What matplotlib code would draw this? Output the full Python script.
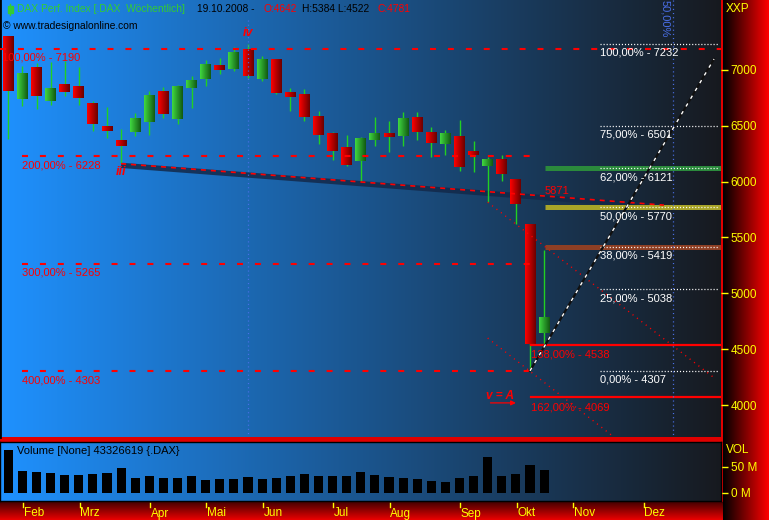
import numpy as np
import matplotlib
matplotlib.use('Agg')
import matplotlib.pyplot as plt
import matplotlib.transforms as mtransforms
from matplotlib.lines import Line2D
from matplotlib.patches import Rectangle

plt.rcParams['font.family'] = ['Liberation Sans', 'DejaVu Sans']
plt.rcParams['font.size'] = 8
plt.rcParams['lines.scale_dashes'] = False

# weekly DAX candles, 21.01.2008 - 13.10.2008
opens = [7297, 6741, 7018, 6717, 6866, 6848, 6696, 6491, 6366, 6440,
         6530, 6804, 6556, 6833, 6913, 7036, 7009, 7179, 6920, 7098,
         6795, 6777, 6589, 6429, 6313, 6182, 6375, 6429, 6405, 6571,
         6437, 6333, 6402, 6268, 6137, 6196, 6018, 5616, 4642]
highs = [7297, 7038, 7060, 7065, 7080, 7021, 6723, 6670, 6473, 6616,
         6813, 6848, 6866, 6946, 7089, 7107, 7208, 7232, 7125, 7098,
         6839, 6830, 6634, 6446, 6420, 6402, 6580, 6545, 6625, 6625,
         6491, 6464, 6554, 6360, 6223, 6241, 6018, 5616, 5384]
lows = [6381, 6672, 6652, 6688, 6762, 6688, 6449, 6387, 6167, 6405,
        6420, 6565, 6512, 6654, 6851, 6958, 6991, 6930, 6902, 6786,
        6634, 6545, 6339, 6196, 6137, 6003, 6315, 6262, 6315, 6369,
        6217, 6235, 6092, 6083, 5815, 6003, 5616, 4307, 4522]
closes = [6813, 6973, 6762, 6830, 6798, 6744, 6512, 6449, 6315, 6562,
          6768, 6601, 6848, 6902, 7045, 6994, 7161, 6940, 7098, 6795,
          6759, 6574, 6420, 6271, 6152, 6384, 6437, 6396, 6562, 6440,
          6342, 6429, 6128, 6235, 6196, 6065, 5797, 4545, 4781]
volumes = [82, 41.7, 39.7, 37.8, 34, 34, 35.9, 37.8, 47.4, 28.2,
           32, 28.2, 28.2, 32, 24.4, 26.3, 26.3, 30.1, 26.3, 27.5,
           32, 35.9, 32, 32, 32, 39.7, 34, 30.1, 28.2, 26.3,
           22.4, 20.5, 28.2, 32, 68.6, 32, 35.9, 53.2, 43.3]

month_names = ['Feb', 'Mrz', 'Apr', 'Mai', 'Jun', 'Jul', 'Aug', 'Sep', 'Okt', 'Nov', 'Dez']
month_weeks = [1, 5, 10, 14, 18, 23, 27, 32, 36, 40, 45]

wave_levels = [7190, 6228, 5265, 4303]
wave_labels = ['100,00% - 7190', '200,00% - 6228', '300,00% - 5265', '400,00% - 4303']

fib_levels = [7232, 6501, 6121, 5770, 5419, 5038, 4307]
fib_labels = ['100,00% - 7232', '75,00% - 6501', '62,00% - 6121', '50,00% - 5770',
              '38,00% - 5419', '25,00% - 5038', '0,00% - 4307']

ext_levels = [4538, 4069]
ext_labels = ['138,00% - 4538', '162,00% - 4069']

band_levels = [6121, 5770, 5419]
band_colors = ['#2b8a3c', '#a8a428', '#8e3f24']

trend_start = (8, 6160)
trend_at_38 = 5871

W, H = 769, 520
fig = plt.figure(figsize=(W / 100, H / 100), dpi=100, facecolor='#e00000')


def fx(px):
    return px / W


def fy(py):
    return 1 - py / H


def hgrad(c0, c1, n=256):
    t = np.linspace(0, 1, n)[None, :, None]
    return (1 - t) * np.array(c0)[None, None, :] + t * np.array(c1)[None, None, :]


def vgrad(c0, c1, n=64):
    t = np.linspace(0, 1, n)[:, None, None]
    return (1 - t) * np.array(c0)[None, None, :] + t * np.array(c1)[None, None, :]


bg_left = (0.12, 0.57, 1.0)
bg_right = (0.09, 0.10, 0.12)

# right price strip and bottom date strip
ax_r = fig.add_axes([fx(723), 0, fx(W - 723), 1])
ax_r.imshow(hgrad((0, 0, 0), (1, 0, 0)), extent=[0, 1, 0, 1], aspect='auto')
ax_r.axis('off')
ax_b = fig.add_axes([0, 0, fx(723), 18 / H])
ax_b.imshow(vgrad((0.28, 0, 0), (0.92, 0, 0)), extent=[0, 1, 0, 1], aspect='auto')
ax_b.axis('off')

x0 = (0 - 8.3) / 14.1
x1 = (721 - 8.3) / 14.1
y0, y1 = 3715, 7624

# ---------- price panel
ax = fig.add_axes([0, fy(437), fx(721), 437 / H])
ax.set_facecolor('none')
ax.imshow(hgrad(bg_left, bg_right, 512), extent=[x0, x1, y0, y1], aspect='auto', zorder=0)

for i in range(len(opens)):
    o, h, l, c = opens[i], highs[i], lows[i], closes[i]
    ax.vlines(i, l, h, color='#22d022', lw=1, zorder=3)
    if c >= o:
        g = hgrad((0.25, 0.85, 0.25), (0.07, 0.35, 0.07), 32)
    else:
        g = hgrad((1.0, 0.0, 0.0), (0.42, 0.0, 0.0), 32)
    lo, hi = min(o, c), max(o, c)
    if hi - lo < 20:
        hi = lo + 20
    ax.imshow(g, extent=[i - 0.39, i + 0.39, lo, hi], aspect='auto', zorder=4)

# wave count dashed levels
for k, (v, lab) in enumerate(zip(wave_levels, wave_labels)):
    xs = x0 if k == 0 else 0.95
    xe = x1 if k == 0 else 37.07
    ax.plot([xs, xe], [v, v], color='red', lw=1.5, ls=(0, (4.3, 8.6)), zorder=5)
    ax.annotate(lab, xy=(x0 + 0.12 if k == 0 else 0.95, v), xytext=(0, -6.5),
                textcoords='offset points', va='center', ha='left', color='red',
                annotation_clip=False, zorder=6)

# trendline with dark shadow and red dashes
slope = (trend_at_38 - trend_start[1]) / (38 - trend_start[0])
tx = np.array([trend_start[0], 46.5])
ty = trend_start[1] + slope * (tx - trend_start[0])
ax.plot(tx, ty - 15, color='#13294a', lw=3.8, alpha=0.85, solid_capstyle='butt', zorder=2)

# colour bands
for v, col in zip(band_levels, band_colors):
    ax.plot([38.06, x1], [v, v], color=col, lw=3.6, solid_capstyle='butt', zorder=2)

ax.plot(tx, ty, color='red', lw=1.2, ls=(0, (3.6, 3.6)), zorder=5)
ax.text(38.06, trend_at_38, '5871', color='red', va='bottom', ha='left', zorder=6)

# extension levels
for v, lab in zip(ext_levels, ext_labels):
    ax.plot([37.07, x1], [v, v], color='red', lw=1.6, zorder=5)
    ax.annotate(lab, xy=(37.1, v), xytext=(0, -7.2), textcoords='offset points',
                va='center', ha='left', color='red', zorder=6)

# fibonacci retracement
for v, lab in zip(fib_levels, fib_labels):
    ax.plot([41.96, 50.3], [v, v], color='white', lw=0.9, ls=(0, (0.8, 1.4)), zorder=5)
    ax.annotate(lab, xy=(41.96, v), xytext=(0, -6.5), textcoords='offset points',
                va='center', ha='left', color='white', zorder=6)

# red dotted channel
ax.plot([34, 50], [5815, 4250], color='red', lw=1, ls=(0, (0.8, 3.2)), zorder=5)
ax.plot([34, 43.1], [4600, 3700], color='red', lw=1, ls=(0, (0.8, 3.2)), zorder=5)

# white dashed diagonal
ax.plot([37, 50.05], [4307, 7096], color='#101010', lw=1.6, zorder=5)
ax.plot([37, 50.05], [4307, 7096], color='white', lw=1, ls=(0, (2.5, 4)), zorder=6)

# time lines
ax.plot([17, 17], [7445, y0], color='#4a6fe8', lw=0.9, ls=(0, (0.8, 2.2)), zorder=5)
ax.plot([47.12, 47.12], [y1, y0], color='#4a6fe8', lw=0.9, ls=(0, (0.8, 2.2)), zorder=5)
ax.text(46.6, 7455, '50,00%', color='#4a6fe8', rotation=-90, ha='center', va='center', zorder=6)

# wave labels
ax.text(17, 7329, 'iv', color='red', fontstyle='italic', fontweight='bold', fontsize=9,
        ha='center', va='center', zorder=6)
ax.text(8.0, 6081, 'iii', color='red', fontstyle='italic', fontweight='bold', fontsize=9,
        ha='center', va='center', zorder=6)
ax.text(34.9, 4085, 'v = A', color='red', fontstyle='italic', fontweight='bold', fontsize=8.5,
        ha='center', va='center', zorder=6)
ax.annotate('', xy=(36.2, 4020), xytext=(34.0, 4020),
            arrowprops=dict(arrowstyle='-|>', color='red', lw=0.9, mutation_scale=7), zorder=6)

ax.set_xlim(x0, x1)
ax.set_ylim(y0, y1)
ax.set_xticks([])
ax.yaxis.tick_right()
ax.set_yticks(range(4000, 7001, 500))
ax.tick_params(axis='y', colors='yellow', direction='out', length=5, width=1, pad=2, labelsize=8.5)
for s in ['top', 'right', 'bottom']:
    ax.spines[s].set_visible(False)
ax.spines['left'].set_color('black')
ax.spines['left'].set_linewidth(2)

# ---------- volume panel
axv = fig.add_axes([0, fy(501), fx(721), 59 / H])
axv.set_facecolor('none')
axv.imshow(hgrad(bg_left, bg_right, 512), extent=[x0, x1, -16, 97.5], aspect='auto', zorder=0)
axv.bar(range(len(volumes)), volumes, width=0.64, color='black', zorder=3)
axv.set_xlim(x0, x1)
axv.set_ylim(-16, 97.5)
axv.set_xticks([])
axv.yaxis.tick_right()
axv.set_yticks([0, 50])
axv.set_yticklabels(['0 M', '50 M'])
axv.tick_params(axis='y', colors='yellow', direction='out', length=5, width=1, pad=2, labelsize=8.5)
for s in axv.spines.values():
    s.set_color('black')
    s.set_linewidth(1)

fig.text(fx(726), fy(450), 'VOL', color='yellow', fontsize=8.5, va='center', ha='left')
fig.text(fx(726), fy(8.5), 'XXP', color='yellow', fontsize=8.5, va='center', ha='left')
fig.text(fx(17), fy(451.5), 'Volume [None] 43326619 {.DAX}', color='black', va='center', ha='left', zorder=10)

# month axis
trans = mtransforms.blended_transform_factory(axv.transData, fig.transFigure)
for name, wk in zip(month_names, month_weeks):
    fig.add_artist(Line2D([wk + 0.05, wk + 0.05], [fy(503), fy(506.5)], transform=trans,
                          color='yellow', lw=1))
    fig.text(wk + 0.1, fy(513.5), name, transform=trans, color='yellow', fontsize=8.5,
             ha='left', va='center')

# header
hs = 7.4
fig.add_artist(Line2D([fx(10), fx(10)], [fy(4), fy(15)], color='#33cc33', lw=1))
fig.add_artist(Rectangle((fx(7.5), fy(13)), fx(5), 7 / H, color='#33cc33'))
fig.text(fx(17), fy(9.5), 'DAX Perf. Index [.DAX  Wöchentlich]', color='#33cc33', va='center', fontsize=hs)
fig.text(fx(197), fy(9.5), '19.10.2008 -', color='black', va='center', fontsize=hs)
fig.text(fx(264), fy(9.5), 'O:4642', color='red', va='center', fontsize=hs)
fig.text(fx(301.5), fy(9.5), 'H:5384 L:4522', color='black', va='center', fontsize=hs)
fig.text(fx(377), fy(9.5), 'C:4781', color='red', va='center', fontsize=hs)
fig.text(fx(3), fy(26), '© www.tradesignalonline.com', color='black', va='center', fontsize=hs)

fig.savefig('out.png', dpi=100, facecolor=fig.get_facecolor())
